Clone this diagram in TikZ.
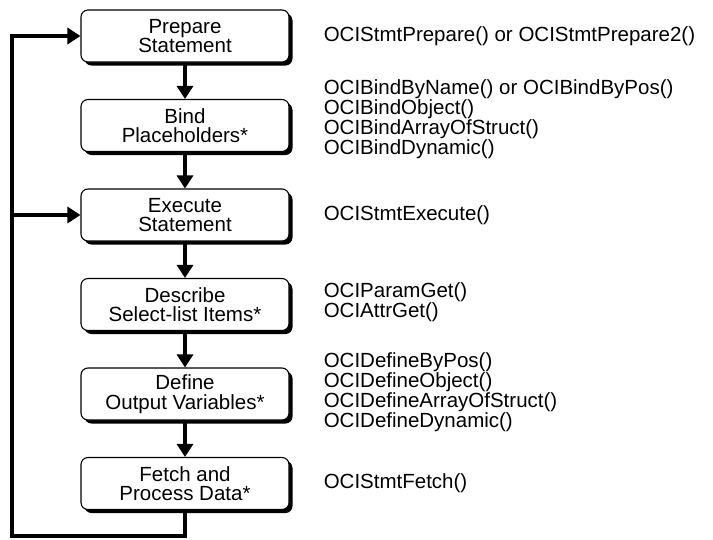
\documentclass[tikz,border=0pt]{standalone}
\usepackage{fontspec}
\setmainfont{Liberation Sans}
\usepackage{tikz}
\usetikzlibrary{positioning,arrows.meta,shadows}

\tikzset{
  stepbox/.style={rectangle,rounded corners=7pt,draw=black,line width=1.1pt,
    fill=white,minimum width=208pt,minimum height=52pt,inner sep=0pt,
    align=center,font=\fontsize{20.5}{19.5}\selectfont,
    drop shadow={shadow xshift=3.5pt,shadow yshift=-3.5pt,fill=black,opacity=1}},
  calls/.style={align=left,inner sep=0pt,font=\fontsize{20.5}{16.7}\selectfont},
  flow/.style={line width=3.2pt,-{Triangle[width=16pt,length=13pt]}},
}

\begin{document}
\begin{tikzpicture}[x=1pt,y=-1pt]
  \useasboundingbox (0,0) rectangle (713,539);
  % the six steps
  \node[stepbox] (prep) at (185,36) {Prepare\\Statement};
  \node[stepbox,below=36.4pt of prep] (bind) {Bind\\Placeholders*};
  \node[stepbox,below=36.4pt of bind] (exec) {Execute\\Statement};
  \node[stepbox,below=36.4pt of exec] (desc) {Describe\\Select-list Items*};
  \node[stepbox,below=36.4pt of desc] (defn) {Define\\Output Variables*};
  \node[stepbox,below=36.4pt of defn] (fetch) {Fetch and\\Process Data*};
  % calls used in each step
  \node[calls,right=34pt of prep] (prepcalls) {OCIStmtPrepare() or OCIStmtPrepare2()};
  \node[calls,right=34pt of bind,yshift=6pt] (bindcalls)
    {OCIBindByName() or OCIBindByPos()\\OCIBindObject()\\OCIBindArrayOfStruct()\\OCIBindDynamic()};
  \node[calls,right=34pt of exec] (execcalls) {OCIStmtExecute()};
  \node[calls,right=34pt of desc,yshift=2pt] (desccalls) {OCIParamGet()\\OCIAttrGet()};
  \node[calls,right=34pt of defn,yshift=1.5pt] (defncalls)
    {OCIDefineByPos()\\OCIDefineObject()\\OCIDefineArrayOfStruct()\\OCIDefineDynamic()};
  \node[calls,right=34pt of fetch] (fetchcalls) {OCIStmtFetch()};
  % arrows
  \draw[flow] (prep) -- (bind);
  \draw[flow] (bind) -- (exec);
  \draw[flow] (exec) -- (desc);
  \draw[flow] (desc) -- (defn);
  \draw[flow] (defn) -- (fetch);
  % loop back
  \coordinate (loopbl) at (12,536);
  \draw[flow] (fetch.south) |- (loopbl) |- (prep.west);
  \draw[flow] (loopbl |- exec.west) -- (exec.west);
\end{tikzpicture}
\end{document}
